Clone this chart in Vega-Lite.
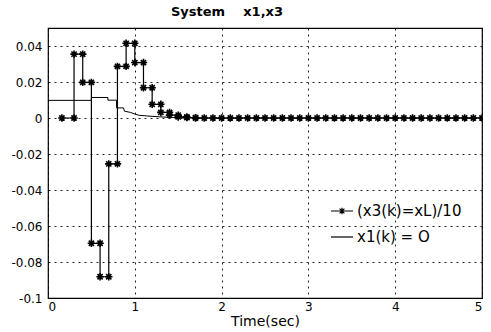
{
  "$schema": "https://vega.github.io/schema/vega-lite/v6.json",
  "width": 434,
  "height": 270,
  "autosize": {"type": "none"},
  "padding": {"left": 48, "top": 28, "right": 9, "bottom": 34},
  "background": "white",
  "config": {
    "view": {"stroke": "black", "strokeWidth": 1.2},
    "font": "DejaVu Sans",
    "axis": {
      "domain": false,
      "ticks": false,
      "grid": true,
      "gridColor": "black",
      "gridDash": [2, 4],
      "gridWidth": 1,
      "gridOpacity": 0.85,
      "labelColor": "black",
      "labelFontSize": 12,
      "labelFont": "DejaVu Sans",
      "titleColor": "black",
      "titleFontWeight": "normal",
      "titleFont": "DejaVu Sans",
      "titleFontSize": 14
    }
  },
  "title": {
    "text": "System\u00a0\u00a0\u00a0\u00a0x1,x3",
    "fontSize": 13,
    "fontWeight": "bold",
    "font": "DejaVu Sans",
    "color": "black",
    "anchor": "middle",
    "dx": -38,
    "offset": 9
  },
  "datasets": {
    "x3": [
      {"i": 0, "t": 0.16, "y": 0},
      {"i": 1, "t": 0.3, "y": 0},
      {"i": 2, "t": 0.3, "y": 0.0355},
      {"i": 3, "t": 0.4, "y": 0.0355},
      {"i": 4, "t": 0.4, "y": 0.0198},
      {"i": 5, "t": 0.5, "y": 0.0198},
      {"i": 6, "t": 0.5, "y": -0.0696},
      {"i": 7, "t": 0.6, "y": -0.0696},
      {"i": 8, "t": 0.6, "y": -0.0882},
      {"i": 9, "t": 0.7, "y": -0.0882},
      {"i": 10, "t": 0.7, "y": -0.0255},
      {"i": 11, "t": 0.8, "y": -0.0255},
      {"i": 12, "t": 0.8, "y": 0.0287},
      {"i": 13, "t": 0.9, "y": 0.0287},
      {"i": 14, "t": 0.9, "y": 0.0415},
      {"i": 15, "t": 1.0, "y": 0.0415},
      {"i": 16, "t": 1.0, "y": 0.0308},
      {"i": 17, "t": 1.1, "y": 0.0308},
      {"i": 18, "t": 1.1, "y": 0.0168},
      {"i": 19, "t": 1.2, "y": 0.0168},
      {"i": 20, "t": 1.2, "y": 0.0076},
      {"i": 21, "t": 1.3, "y": 0.0076},
      {"i": 22, "t": 1.3, "y": 0.0031},
      {"i": 23, "t": 1.4, "y": 0.0031},
      {"i": 24, "t": 1.4, "y": 0.0016},
      {"i": 25, "t": 1.5, "y": 0.0016},
      {"i": 26, "t": 1.5, "y": 0.0006},
      {"i": 27, "t": 1.6, "y": 0.0006},
      {"i": 28, "t": 1.6, "y": 0.0002},
      {"i": 29, "t": 1.7, "y": 0.0002},
      {"i": 30, "t": 1.7, "y": 0},
      {"i": 31, "t": 1.8, "y": 0},
      {"i": 32, "t": 1.9, "y": 0},
      {"i": 33, "t": 2.0, "y": 0},
      {"i": 34, "t": 2.1, "y": 0},
      {"i": 35, "t": 2.2, "y": 0},
      {"i": 36, "t": 2.3, "y": 0},
      {"i": 37, "t": 2.4, "y": 0},
      {"i": 38, "t": 2.5, "y": 0},
      {"i": 39, "t": 2.6, "y": 0},
      {"i": 40, "t": 2.7, "y": 0},
      {"i": 41, "t": 2.8, "y": 0},
      {"i": 42, "t": 2.9, "y": 0},
      {"i": 43, "t": 3.0, "y": 0},
      {"i": 44, "t": 3.1, "y": 0},
      {"i": 45, "t": 3.2, "y": 0},
      {"i": 46, "t": 3.3, "y": 0},
      {"i": 47, "t": 3.4, "y": 0},
      {"i": 48, "t": 3.5, "y": 0},
      {"i": 49, "t": 3.6, "y": 0},
      {"i": 50, "t": 3.7, "y": 0},
      {"i": 51, "t": 3.8, "y": 0},
      {"i": 52, "t": 3.9, "y": 0},
      {"i": 53, "t": 4.0, "y": 0},
      {"i": 54, "t": 4.1, "y": 0},
      {"i": 55, "t": 4.2, "y": 0},
      {"i": 56, "t": 4.3, "y": 0},
      {"i": 57, "t": 4.4, "y": 0},
      {"i": 58, "t": 4.5, "y": 0},
      {"i": 59, "t": 4.6, "y": 0},
      {"i": 60, "t": 4.7, "y": 0},
      {"i": 61, "t": 4.8, "y": 0},
      {"i": 62, "t": 4.9, "y": 0},
      {"i": 63, "t": 5.0, "y": 0}
    ],
    "x1": [
      {"i": 0, "t": 0.0, "y": 0.0098},
      {"i": 1, "t": 0.5, "y": 0.0098},
      {"i": 2, "t": 0.5, "y": 0.0114},
      {"i": 3, "t": 0.69, "y": 0.0114},
      {"i": 4, "t": 0.69, "y": 0.0099},
      {"i": 5, "t": 0.79, "y": 0.0099},
      {"i": 6, "t": 0.79, "y": 0.0056},
      {"i": 7, "t": 0.87, "y": 0.0056},
      {"i": 8, "t": 0.88, "y": 0.0038},
      {"i": 9, "t": 0.95, "y": 0.0031},
      {"i": 10, "t": 1.0, "y": 0.0022},
      {"i": 11, "t": 1.05, "y": 0.0015},
      {"i": 12, "t": 1.15, "y": 0.0011},
      {"i": 13, "t": 1.3, "y": 0.0006},
      {"i": 14, "t": 1.5, "y": 0.0002},
      {"i": 15, "t": 1.8, "y": 0},
      {"i": 16, "t": 5.0, "y": 0}
    ]
  },
  "encoding": {
    "x": {
      "field": "t",
      "type": "quantitative",
      "scale": {"domain": [0, 5], "nice": false, "zero": false},
      "axis": {"values": [0, 1, 2, 3, 4, 5], "title": "Time(sec)", "labelPadding": 3, "titlePadding": 2}
    },
    "y": {
      "field": "y",
      "type": "quantitative",
      "scale": {"domain": [-0.1, 0.05], "nice": false, "zero": false},
      "axis": {
        "values": [-0.1, -0.08, -0.06, -0.04, -0.02, 0, 0.02, 0.04],
        "labelExpr": "datum.value < 0 ? '-' + format(-datum.value, '~g') : format(datum.value, '~g')",
        "title": null,
        "labelPadding": 6
      }
    }
  },
  "layer": [
    {
      "data": {"name": "x1"},
      "mark": {"type": "line", "strokeWidth": 1, "clip": true},
      "encoding": {
        "order": {"field": "i", "type": "quantitative"},
        "color": {"datum": "x1(k) = O"}
      }
    },
    {
      "data": {"name": "x3"},
      "mark": {"type": "line", "strokeWidth": 1.2, "clip": true},
      "encoding": {
        "order": {"field": "i", "type": "quantitative"},
        "color": {
          "datum": "(x3(k)=xL)/10",
          "scale": {"domain": ["(x3(k)=xL)/10", "x1(k) = O"], "range": ["black", "black"]},
          "legend": {
            "title": null,
            "orient": "none",
            "legendX": 280,
            "legendY": 169,
            "symbolType": "stroke",
            "symbolSize": 484,
            "symbolStrokeWidth": 1.2,
            "symbolFillColor": "transparent",
            "labelFontSize": 15,
            "labelFont": "DejaVu Sans",
            "labelColor": "black",
            "labelOffset": 3,
            "rowPadding": 6,
            "padding": 2,
            "encode": {
              "symbols": {
                "update": {
                  "shape": {"signal": "datum.value === '(x3(k)=xL)/10' ? 'M-1,0L-0.3,0M0.3,0L1,0M-0.3,0L0.3,0M0,-0.3L0,0.3M-0.22,-0.22L0.22,0.22M-0.22,0.22L0.22,-0.22' : 'M-1,0L1,0'"},
                  "fill": {"value": "transparent"},
                  "stroke": {"value": "black"}
                }
              }
            }
          }
        }
      }
    },
    {
      "data": {"name": "x3"},
      "mark": {
        "type": "point",
        "shape": "M-1,0L1,0M0,-1L0,1M-0.7,-0.7L0.7,0.7M-0.7,0.7L0.7,-0.7",
        "size": 55,
        "filled": false,
        "stroke": "black",
        "strokeWidth": 1.6,
        "opacity": 1,
        "clip": true
      }
    }
  ]
}
